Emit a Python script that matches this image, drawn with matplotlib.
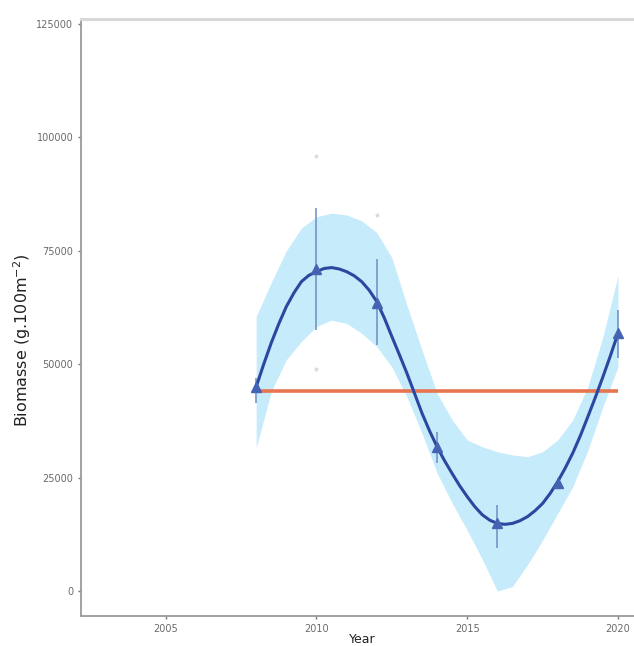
import matplotlib
matplotlib.use("Agg")
import matplotlib.pyplot as plt

# ---- data ----
years = [2008, 2010, 2012, 2014, 2016, 2018, 2020]
biomass = [45000, 71000, 63500, 31800, 15000, 23800, 56800]
err_low = [41500, 57500, 54200, 28200, 9500, 22500, 51300]
err_high = [47000, 84400, 73300, 35000, 18900, 25000, 61900]

raw_years = [2010, 2010, 2012]
raw_values = [96000, 49000, 83000]

# smooth fit line, read every quarter year
line_years = [2008, 2008.25, 2008.5, 2008.75, 2009, 2009.25, 2009.5, 2009.75,
              2010, 2010.25, 2010.5, 2010.75, 2011, 2011.25, 2011.5, 2011.75,
              2012, 2012.25, 2012.5, 2012.75, 2013, 2013.25, 2013.5, 2013.75,
              2014, 2014.25, 2014.5, 2014.75, 2015, 2015.25, 2015.5, 2015.75,
              2016, 2016.25, 2016.5, 2016.75, 2017, 2017.25, 2017.5, 2017.75,
              2018, 2018.25, 2018.5, 2018.75, 2019, 2019.25, 2019.5, 2019.75, 2020]
line_values = [45000, 50000, 54700, 58900, 62700, 65700, 68200, 69600,
               70400, 71100, 71300, 71000, 70400, 69500, 68200, 66300,
               63800, 60200, 56100, 52100, 48000, 43600, 39200, 35300,
               31800, 28700, 25900, 23200, 20800, 18600, 16800, 15600,
               14900, 14700, 14900, 15500, 16400, 17700, 19300, 21500,
               24100, 27100, 30400, 34200, 38400, 42700, 47200, 51900, 56800]

# confidence band, read every half year
band_years = [2008, 2008.5, 2009, 2009.5, 2010, 2010.5, 2011, 2011.5, 2012, 2012.5,
              2013, 2013.5, 2014, 2014.5, 2015, 2015.5, 2016, 2016.5, 2017, 2017.5,
              2018, 2018.5, 2019, 2019.5, 2020]
band_upper = [60500, 68000, 75000, 80000, 82500, 83300, 82900, 81600, 79000, 73500,
              63000, 53100, 43600, 37700, 33300, 31800, 30700, 30000, 29600, 30700,
              33300, 37700, 45000, 56000, 69500]
band_lower = [31500, 44000, 51000, 55000, 58300, 59700, 59000, 56800, 53900, 49400,
              42800, 34800, 26000, 19400, 13400, 7000, 0, 1000, 5800, 11200,
              17100, 23000, 31000, 40600, 49400]

mean_value = 44000
xticks = [2005, 2010, 2015, 2020]
yticks = [0, 25000, 50000, 75000, 100000, 125000]

# ---- figure ----
W, H = 634, 646
fig = plt.figure(figsize=(W / 100, H / 100), dpi=100)
fig.patch.set_facecolor("white")
ax = fig.add_axes([81 / W, 30 / H, 562 / W, 597 / H])
ax.set_facecolor("white")

ax.fill_between(band_years, band_lower, band_upper, color="#c6ebfa", linewidth=0, zorder=1)
ax.plot([years[0], years[-1]], [mean_value, mean_value], color="#e7754f",
        linewidth=2.6, zorder=3, solid_capstyle="butt")
ax.vlines(years, err_low, err_high, color="#6f8fc4", alpha=0.8, linewidth=1.4, zorder=2)
ax.scatter(raw_years, raw_values, s=8, color="#dcdcdc", zorder=2, linewidths=0)
ax.plot(line_years, line_values, color="#2a48a0", linewidth=2.2, zorder=4,
        solid_joinstyle="round")
ax.plot(years, biomass, linestyle="none", marker="^", markersize=7,
        color="#4563b3", zorder=5)

ax.set_xlim(2002.19, 2020.83)
ax.set_ylim(-5510, 126100)
ax.set_xticks(xticks)
ax.set_xticklabels([str(t) for t in xticks])
ax.set_yticks(yticks)
ax.set_yticklabels([str(t) for t in yticks])

ax.spines["right"].set_visible(False)
ax.spines["left"].set_color("#9a9a9a")
ax.spines["left"].set_linewidth(1.3)
ax.spines["bottom"].set_color("#9a9a9a")
ax.spines["bottom"].set_linewidth(1.3)
ax.spines["top"].set_color("#d8d8d8")
ax.spines["top"].set_linewidth(2.2)

ax.tick_params(axis="both", length=2.5, width=1, color="#777777",
               labelsize=7, labelcolor="#6a6a6a", pad=3)

ax.set_ylabel("Biomasse (g.100m$^{-2}$)", fontsize=11.5, color="#222222")
ax.yaxis.set_label_coords(-0.105, 0.462)
ax.yaxis.label.set_va("center")
ax.set_xlabel("Year", fontsize=9, color="#222222")
ax.xaxis.set_label_coords(0.5, -0.029)
ax.xaxis.label.set_va("top")

fig.savefig("out.png", dpi=100)
